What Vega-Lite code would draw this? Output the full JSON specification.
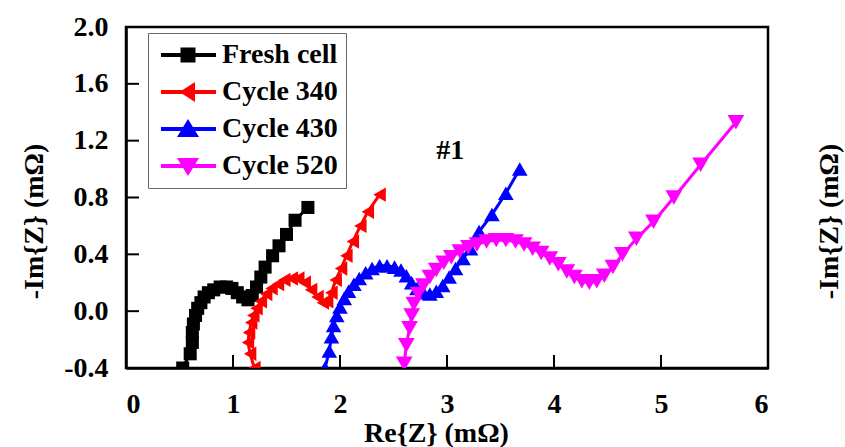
{
  "$schema": "https://vega.github.io/schema/vega-lite/v6.json",
  "width": 642,
  "height": 341,
  "autosize": "none",
  "padding": {"left": 126, "top": 27, "right": 77, "bottom": 79},
  "background": "white",
  "datasets": {
    "eis": [
      {"s": "Fresh cell", "i": 1, "re": 0.53, "im": -0.40},
      {"s": "Fresh cell", "i": 2, "re": 0.60, "im": -0.30},
      {"s": "Fresh cell", "i": 3, "re": 0.62, "im": -0.22},
      {"s": "Fresh cell", "i": 4, "re": 0.62, "im": -0.15},
      {"s": "Fresh cell", "i": 5, "re": 0.63, "im": -0.09},
      {"s": "Fresh cell", "i": 6, "re": 0.65, "im": -0.03},
      {"s": "Fresh cell", "i": 7, "re": 0.67, "im": 0.02},
      {"s": "Fresh cell", "i": 8, "re": 0.70, "im": 0.06},
      {"s": "Fresh cell", "i": 9, "re": 0.73, "im": 0.10},
      {"s": "Fresh cell", "i": 10, "re": 0.77, "im": 0.13},
      {"s": "Fresh cell", "i": 11, "re": 0.82, "im": 0.15},
      {"s": "Fresh cell", "i": 12, "re": 0.88, "im": 0.17},
      {"s": "Fresh cell", "i": 13, "re": 0.94, "im": 0.17},
      {"s": "Fresh cell", "i": 14, "re": 0.99, "im": 0.16},
      {"s": "Fresh cell", "i": 15, "re": 1.04, "im": 0.13},
      {"s": "Fresh cell", "i": 16, "re": 1.09, "im": 0.10},
      {"s": "Fresh cell", "i": 17, "re": 1.14, "im": 0.08},
      {"s": "Fresh cell", "i": 18, "re": 1.18, "im": 0.11},
      {"s": "Fresh cell", "i": 19, "re": 1.22, "im": 0.17},
      {"s": "Fresh cell", "i": 20, "re": 1.26, "im": 0.24},
      {"s": "Fresh cell", "i": 21, "re": 1.30, "im": 0.31},
      {"s": "Fresh cell", "i": 22, "re": 1.37, "im": 0.39},
      {"s": "Fresh cell", "i": 23, "re": 1.43, "im": 0.46},
      {"s": "Fresh cell", "i": 24, "re": 1.50, "im": 0.54},
      {"s": "Fresh cell", "i": 25, "re": 1.58, "im": 0.64},
      {"s": "Fresh cell", "i": 26, "re": 1.70, "im": 0.73},
      {"s": "Cycle 340", "i": 1, "re": 1.20, "im": -0.40},
      {"s": "Cycle 340", "i": 2, "re": 1.16, "im": -0.30},
      {"s": "Cycle 340", "i": 3, "re": 1.14, "im": -0.22},
      {"s": "Cycle 340", "i": 4, "re": 1.15, "im": -0.15},
      {"s": "Cycle 340", "i": 5, "re": 1.17, "im": -0.08},
      {"s": "Cycle 340", "i": 6, "re": 1.19, "im": -0.03},
      {"s": "Cycle 340", "i": 7, "re": 1.22, "im": 0.02},
      {"s": "Cycle 340", "i": 8, "re": 1.26, "im": 0.07},
      {"s": "Cycle 340", "i": 9, "re": 1.31, "im": 0.12},
      {"s": "Cycle 340", "i": 10, "re": 1.36, "im": 0.16},
      {"s": "Cycle 340", "i": 11, "re": 1.42, "im": 0.19},
      {"s": "Cycle 340", "i": 12, "re": 1.48, "im": 0.22},
      {"s": "Cycle 340", "i": 13, "re": 1.55, "im": 0.23},
      {"s": "Cycle 340", "i": 14, "re": 1.61, "im": 0.23},
      {"s": "Cycle 340", "i": 15, "re": 1.67, "im": 0.20},
      {"s": "Cycle 340", "i": 16, "re": 1.73, "im": 0.15},
      {"s": "Cycle 340", "i": 17, "re": 1.79, "im": 0.10},
      {"s": "Cycle 340", "i": 18, "re": 1.84, "im": 0.06},
      {"s": "Cycle 340", "i": 19, "re": 1.88, "im": 0.07},
      {"s": "Cycle 340", "i": 20, "re": 1.92, "im": 0.13},
      {"s": "Cycle 340", "i": 21, "re": 1.96, "im": 0.22},
      {"s": "Cycle 340", "i": 22, "re": 2.01, "im": 0.30},
      {"s": "Cycle 340", "i": 23, "re": 2.06, "im": 0.39},
      {"s": "Cycle 340", "i": 24, "re": 2.12, "im": 0.49},
      {"s": "Cycle 340", "i": 25, "re": 2.19, "im": 0.60},
      {"s": "Cycle 340", "i": 26, "re": 2.26, "im": 0.70},
      {"s": "Cycle 340", "i": 27, "re": 2.37, "im": 0.82},
      {"s": "Cycle 430", "i": 1, "re": 1.86, "im": -0.40},
      {"s": "Cycle 430", "i": 2, "re": 1.90, "im": -0.28},
      {"s": "Cycle 430", "i": 3, "re": 1.92, "im": -0.18},
      {"s": "Cycle 430", "i": 4, "re": 1.94, "im": -0.10},
      {"s": "Cycle 430", "i": 5, "re": 1.97, "im": -0.03},
      {"s": "Cycle 430", "i": 6, "re": 2.00, "im": 0.03},
      {"s": "Cycle 430", "i": 7, "re": 2.04, "im": 0.09},
      {"s": "Cycle 430", "i": 8, "re": 2.08, "im": 0.14},
      {"s": "Cycle 430", "i": 9, "re": 2.13, "im": 0.19},
      {"s": "Cycle 430", "i": 10, "re": 2.18, "im": 0.23},
      {"s": "Cycle 430", "i": 11, "re": 2.24, "im": 0.27},
      {"s": "Cycle 430", "i": 12, "re": 2.30, "im": 0.30},
      {"s": "Cycle 430", "i": 13, "re": 2.37, "im": 0.32},
      {"s": "Cycle 430", "i": 14, "re": 2.44, "im": 0.32},
      {"s": "Cycle 430", "i": 15, "re": 2.51, "im": 0.31},
      {"s": "Cycle 430", "i": 16, "re": 2.57, "im": 0.29},
      {"s": "Cycle 430", "i": 17, "re": 2.62, "im": 0.25},
      {"s": "Cycle 430", "i": 18, "re": 2.67, "im": 0.20},
      {"s": "Cycle 430", "i": 19, "re": 2.72, "im": 0.16},
      {"s": "Cycle 430", "i": 20, "re": 2.78, "im": 0.13},
      {"s": "Cycle 430", "i": 21, "re": 2.84, "im": 0.12},
      {"s": "Cycle 430", "i": 22, "re": 2.90, "im": 0.14},
      {"s": "Cycle 430", "i": 23, "re": 2.96, "im": 0.18},
      {"s": "Cycle 430", "i": 24, "re": 3.02, "im": 0.24},
      {"s": "Cycle 430", "i": 25, "re": 3.08, "im": 0.30},
      {"s": "Cycle 430", "i": 26, "re": 3.15, "im": 0.37},
      {"s": "Cycle 430", "i": 27, "re": 3.22, "im": 0.44},
      {"s": "Cycle 430", "i": 28, "re": 3.30, "im": 0.56},
      {"s": "Cycle 430", "i": 29, "re": 3.42, "im": 0.68},
      {"s": "Cycle 430", "i": 30, "re": 3.55, "im": 0.83},
      {"s": "Cycle 430", "i": 31, "re": 3.68, "im": 1.00},
      {"s": "Cycle 520", "i": 1, "re": 2.60, "im": -0.37},
      {"s": "Cycle 520", "i": 2, "re": 2.62, "im": -0.24},
      {"s": "Cycle 520", "i": 3, "re": 2.65, "im": -0.12},
      {"s": "Cycle 520", "i": 4, "re": 2.67, "im": -0.03},
      {"s": "Cycle 520", "i": 5, "re": 2.69, "im": 0.05},
      {"s": "Cycle 520", "i": 6, "re": 2.73, "im": 0.12},
      {"s": "Cycle 520", "i": 7, "re": 2.78, "im": 0.18},
      {"s": "Cycle 520", "i": 8, "re": 2.84, "im": 0.24},
      {"s": "Cycle 520", "i": 9, "re": 2.90, "im": 0.29},
      {"s": "Cycle 520", "i": 10, "re": 2.97, "im": 0.34},
      {"s": "Cycle 520", "i": 11, "re": 3.04, "im": 0.38},
      {"s": "Cycle 520", "i": 12, "re": 3.12, "im": 0.42},
      {"s": "Cycle 520", "i": 13, "re": 3.20, "im": 0.45},
      {"s": "Cycle 520", "i": 14, "re": 3.28, "im": 0.47},
      {"s": "Cycle 520", "i": 15, "re": 3.37, "im": 0.49},
      {"s": "Cycle 520", "i": 16, "re": 3.46, "im": 0.50},
      {"s": "Cycle 520", "i": 17, "re": 3.55, "im": 0.50},
      {"s": "Cycle 520", "i": 18, "re": 3.64, "im": 0.49},
      {"s": "Cycle 520", "i": 19, "re": 3.72, "im": 0.47},
      {"s": "Cycle 520", "i": 20, "re": 3.80, "im": 0.44},
      {"s": "Cycle 520", "i": 21, "re": 3.88, "im": 0.41},
      {"s": "Cycle 520", "i": 22, "re": 3.96, "im": 0.37},
      {"s": "Cycle 520", "i": 23, "re": 4.04, "im": 0.33},
      {"s": "Cycle 520", "i": 24, "re": 4.12, "im": 0.28},
      {"s": "Cycle 520", "i": 25, "re": 4.19, "im": 0.24},
      {"s": "Cycle 520", "i": 26, "re": 4.26, "im": 0.21},
      {"s": "Cycle 520", "i": 27, "re": 4.33, "im": 0.20},
      {"s": "Cycle 520", "i": 28, "re": 4.40, "im": 0.21},
      {"s": "Cycle 520", "i": 29, "re": 4.47, "im": 0.25},
      {"s": "Cycle 520", "i": 30, "re": 4.55, "im": 0.31},
      {"s": "Cycle 520", "i": 31, "re": 4.64, "im": 0.40},
      {"s": "Cycle 520", "i": 32, "re": 4.77, "im": 0.51},
      {"s": "Cycle 520", "i": 33, "re": 4.93, "im": 0.63},
      {"s": "Cycle 520", "i": 34, "re": 5.12, "im": 0.80},
      {"s": "Cycle 520", "i": 35, "re": 5.37, "im": 1.03},
      {"s": "Cycle 520", "i": 36, "re": 5.70, "im": 1.33}
    ],
    "xticks": [{"v": 1}, {"v": 2}, {"v": 3}, {"v": 4}, {"v": 5}],
    "yticks": [{"v": 0}, {"v": 0.4}, {"v": 0.8}, {"v": 1.2}, {"v": 1.6}],
    "note": [{"label": "#1", "re": 3.03, "im": 1.13}]
  },
  "layer": [
    {
      "data": {"name": "xticks"},
      "mark": {"type": "tick", "orient": "vertical", "size": 13, "thickness": 2, "yOffset": -6.5, "color": "black", "opacity": 1},
      "encoding": {
        "x": {"field": "v", "type": "quantitative"},
        "y": {"datum": -0.4, "type": "quantitative", "axis": null}
      }
    },
    {
      "data": {"name": "yticks"},
      "mark": {"type": "tick", "orient": "horizontal", "size": 13, "thickness": 2, "xOffset": 6.5, "color": "black", "opacity": 1},
      "encoding": {
        "x": {"datum": 0, "type": "quantitative"},
        "y": {"field": "v", "type": "quantitative", "axis": null}
      }
    },
    {
      "data": {"name": "eis"},
      "mark": {"type": "line", "strokeWidth": 3, "clip": true},
      "encoding": {
        "x": {"field": "re", "type": "quantitative",
              "scale": {"domain": [0, 6], "nice": false, "zero": false},
              "axis": {"values": [0, 1, 2, 3, 4, 5, 6], "format": "d", "title": "Re{Z} (mΩ)",
                       "titleX": 310, "titleY": 73, "titleBaseline": "alphabetic",
                       "labelBaseline": "alphabetic", "labelPadding": 44}},
        "y": {"field": "im", "type": "quantitative",
              "scale": {"domain": [-0.4, 2.0], "nice": false, "zero": false},
              "axis": {"orient": "left", "values": [-0.4, 0, 0.4, 0.8, 1.2, 1.6, 2.0],
                       "labelExpr": "datum.value < 0 ? '-' + format(-datum.value, '.1f') : format(datum.value, '.1f')",
                       "labelPadding": 18, "labelBaseline": "middle",
                       "title": "-Im{Z} (mΩ)", "titleAngle": -90, "titleX": -92, "titleY": 194,
                       "titleBaseline": "middle", "titleAlign": "center"}},
        "color": {"field": "s", "type": "nominal", "legend": null,
                  "scale": {"domain": ["Fresh cell", "Cycle 340", "Cycle 430", "Cycle 520"],
                            "range": ["#000000", "#ff0000", "#0000ff", "#ff00ff"]}},
        "detail": {"field": "s"},
        "order": {"field": "i", "type": "quantitative"}
      }
    },
    {
      "data": {"name": "eis"},
      "mark": {"type": "point", "filled": true, "opacity": 1, "clip": true},
      "encoding": {
        "x": {"field": "re", "type": "quantitative"},
        "y": {"field": "im", "type": "quantitative", "axis": null},
        "color": {"field": "s", "type": "nominal", "legend": null},
        "shape": {"field": "s", "type": "nominal", "legend": null,
                  "scale": {"domain": ["Fresh cell", "Cycle 340", "Cycle 430", "Cycle 520"],
                            "range": ["square", "triangle-left", "triangle-up", "triangle-down"]}},
        "size": {"field": "s", "type": "nominal", "legend": null,
                 "scale": {"domain": ["Fresh cell", "Cycle 340", "Cycle 430", "Cycle 520"],
                           "range": [170, 280, 280, 280]}}
      }
    },
    {
      "data": {"name": "eis"},
      "transform": [{"filter": "datum.i < 0"}],
      "mark": {"type": "point", "filled": true, "opacity": 1, "size": 400},
      "encoding": {
        "x": {"field": "re", "type": "quantitative"},
        "y": {"field": "im", "type": "quantitative", "axis": null},
        "color": {"field": "s", "type": "nominal",
                  "legend": {
                    "orient": "none", "legendX": 22, "legendY": 6, "title": null,
                    "strokeColor": "#666666", "fillColor": "white",
                    "padding": 8, "symbolSize": 400, "symbolOpacity": 1, "symbolStrokeWidth": 0,
                    "labelOffset": 38, "rowPadding": 9,
                    "labelFont": "Liberation Serif", "labelFontSize": 28, "labelFontWeight": "bold",
                    "labelColor": "black", "labelLimit": 400
                  }},
        "shape": {"field": "s", "type": "nominal",
                  "scale": {"domain": ["Fresh cell", "Cycle 340", "Cycle 430", "Cycle 520"],
                            "range": [
                              "M-0.9,-0.2H4.6V0.2H-0.9Z M1.05,-0.75H2.55V0.75H1.05Z",
                              "M-0.9,-0.2H4.6V0.2H-0.9Z M0.95,0L2.5,-1L2.5,1Z",
                              "M-0.9,-0.2H4.6V0.2H-0.9Z M1.8,-1L2.9,0.8L0.7,0.8Z",
                              "M-0.9,-0.2H4.6V0.2H-0.9Z M1.8,1L0.7,-0.8L2.9,-0.8Z"
                            ]}}
      }
    },
    {
      "data": {"name": "note"},
      "mark": {"type": "text", "font": "Liberation Serif", "fontSize": 28, "fontWeight": "bold",
               "color": "black", "align": "center", "baseline": "middle"},
      "encoding": {
        "x": {"field": "re", "type": "quantitative"},
        "y": {"field": "im", "type": "quantitative",
              "axis": {"orient": "right", "labels": false, "ticks": false, "domain": false,
                       "title": "-Im{Z} (mΩ)", "titleAngle": -90, "titleX": 61, "titleY": 194,
                       "titleBaseline": "middle", "titleAlign": "center"}},
        "text": {"field": "label"}
      }
    }
  ],
  "resolve": {
    "axis": {"y": "independent"},
    "scale": {"shape": "independent", "size": "independent"},
    "legend": {"color": "independent", "shape": "independent", "size": "independent"}
  },
  "config": {
    "view": {"stroke": "black", "strokeWidth": 2.5},
    "axis": {
      "grid": false, "ticks": false,
      "domainColor": "black", "domainWidth": 2.5,
      "labelFont": "Liberation Serif", "labelFontSize": 28, "labelFontWeight": "bold", "labelColor": "black",
      "titleFont": "Liberation Serif", "titleFontSize": 28, "titleFontWeight": "bold", "titleColor": "black"
    }
  }
}
